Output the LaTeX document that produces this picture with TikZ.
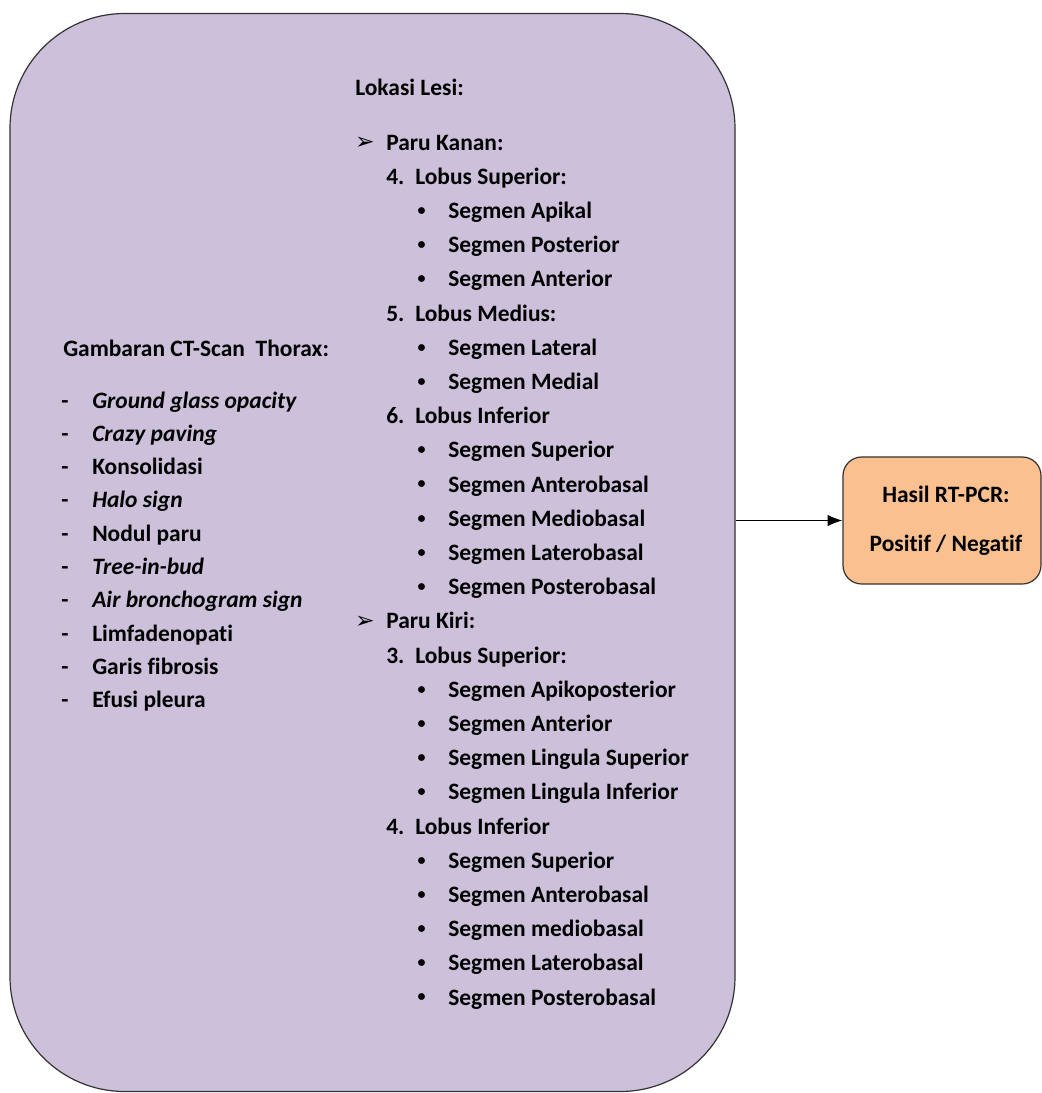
\documentclass[tikz,border=0pt]{standalone}
\usepackage{fontspec}
\setmainfont[Ligatures=NoCommon]{Carlito}
\newfontfamily\dejavu{DejaVu Sans}
\usetikzlibrary{arrows.meta}
\definecolor{lilac}{HTML}{CCC0DA}
\definecolor{peach}{HTML}{FAC090}
\begin{document}
\begin{tikzpicture}[x=0.75pt,y=-0.75pt,
  txt/.style={anchor=base west,inner sep=0pt,font=\bfseries\fontsize{17.6}{21}\selectfont},
  sym/.style={anchor=base west,inner sep=0pt,font=\bfseries\fontsize{17.6}{21}\selectfont},
  dot/.style={anchor=center,inner sep=0pt,font=\bfseries\fontsize{12}{14}\selectfont},
  arr/.style={anchor=center,inner sep=0pt,font=\dejavu\bfseries\fontsize{17.5}{20}\selectfont},
  bigbox/.style={draw=black!80,line width=0.9pt,fill=lilac,rounded corners=86pt},
  resbox/.style={draw=black!80,line width=0.9pt,fill=peach,rounded corners=14pt,align=center,
    font=\bfseries\fontsize{17.6}{21}\selectfont},
  conn/.style={line width=0.9pt,-{Latex[length=11pt,width=8.5pt]}}]
\useasboundingbox (0,0) rectangle (1042,1093);
\node[bigbox,minimum width=543.75pt,minimum height=808.5pt] (big) at (372.5,552.5) {};
\node[resbox,minimum width=148.5pt,minimum height=95.25pt] (res) at (942,520.5)
  {\hspace*{6pt}Hasil RT-PCR:\\[16pt]\hspace*{6pt}Positif / Negatif};
\draw[conn] (big.east |- res.west) -- (res.west);
% left column
\node[txt] (lh) at (63,356) {Gambaran CT-Scan\ \ Thorax:};
\foreach \i/\t in {0/\textit{Ground glass opacity},1/\textit{Crazy paving},2/Konsolidasi,
  3/\textit{Halo sign},4/Nodul paru,5/\textit{Tree-in-bud},6/\textit{Air bronchogram sign},
  7/Limfadenopati,8/Garis fibrosis,9/Efusi pleura}{
  \node[sym] (ld\i) at (61,{408+33.33*\i}) {-};
  \node[txt] (l\i) at (92,{408+33.33*\i}) {\t};
}
% right column
\node[txt] (rh) at (355,95) {Lokasi Lesi:};
\foreach \i/\k/\m/\t in {0/h/x/Paru Kanan:,1/n/4./Lobus Superior:,2/b/x/Segmen Apikal,
  3/b/x/Segmen Posterior,4/b/x/Segmen Anterior,5/n/5./Lobus Medius:,6/b/x/Segmen Lateral,
  7/b/x/Segmen Medial,8/n/6./Lobus Inferior,9/b/x/Segmen Superior,10/b/x/Segmen Anterobasal,
  11/b/x/Segmen Mediobasal,12/b/x/Segmen Laterobasal,13/b/x/Segmen Posterobasal,
  14/h/x/Paru Kiri:,15/n/3./Lobus Superior:,16/b/x/Segmen Apikoposterior,17/b/x/Segmen Anterior,
  18/b/x/Segmen Lingula Superior,19/b/x/Segmen Lingula Inferior,20/n/4./Lobus Inferior,
  21/b/x/Segmen Superior,22/b/x/Segmen Anterobasal,23/b/x/Segmen mediobasal,
  24/b/x/Segmen Laterobasal,25/b/x/Segmen Posterobasal}{
  \pgfmathsetmacro{\yy}{150+34.2*\i}
  \if\k h
    \node[arr] (rm\i) at (365,\yy-7) {➢};
    \node[txt] (r\i) at (386,\yy) {\t};
  \fi
  \if\k n
    \node[sym] (rm\i) at (386,\yy) {\m};
    \node[txt] (r\i) at (415,\yy) {\t};
  \fi
  \if\k b
    \node[dot] (rm\i) at (421.5,\yy-7) {•};
    \node[txt] (r\i) at (448,\yy) {\t};
  \fi
}
\end{tikzpicture}
\end{document}
